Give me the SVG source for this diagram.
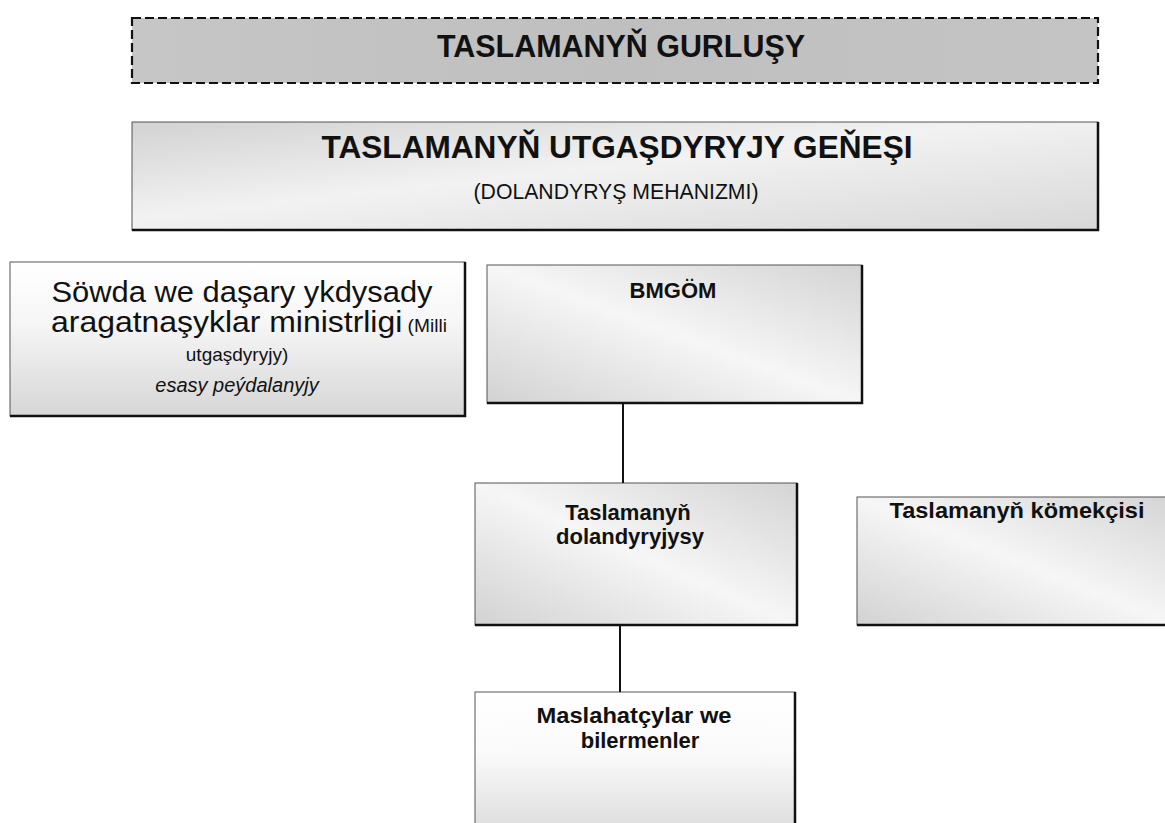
<svg xmlns="http://www.w3.org/2000/svg" width="1165" height="823" viewBox="0 0 1165 823">
<defs>
<linearGradient id="gTop" x1="0" y1="0" x2="1" y2="0">
<stop offset="0" stop-color="#c6c6c6"/><stop offset="0.5" stop-color="#bfbfbf"/><stop offset="1" stop-color="#c4c4c4"/>
</linearGradient>
<linearGradient id="gHead" x1="0" y1="0" x2="1" y2="1">
<stop offset="0" stop-color="#d2d2d2"/><stop offset="0.45" stop-color="#f2f2f2"/><stop offset="1" stop-color="#d8d8d8"/>
</linearGradient>
<linearGradient id="gLeft" x1="0" y1="0" x2="0" y2="1">
<stop offset="0" stop-color="#ffffff"/><stop offset="0.4" stop-color="#f6f6f6"/><stop offset="1" stop-color="#d6d6d6"/>
</linearGradient>
<linearGradient id="gBox" x1="0" y1="1" x2="1" y2="0">
<stop offset="0" stop-color="#d2d2d2"/><stop offset="0.5" stop-color="#f6f6f6"/><stop offset="1" stop-color="#d4d4d4"/>
</linearGradient>
<linearGradient id="gLow" x1="0" y1="0" x2="0" y2="1">
<stop offset="0" stop-color="#ffffff"/><stop offset="0.45" stop-color="#fafafa"/><stop offset="1" stop-color="#dcdcdc"/>
</linearGradient>
</defs>
<style>
text{font-family:"Liberation Sans",Arial,sans-serif;fill:#111;}
.b{font-weight:bold;}
.frame{stroke:#555;stroke-width:1;}
.shadow{fill:none;stroke:#111;stroke-width:2.5;}
.dash{fill:url(#gTop);stroke:#111;stroke-width:2.2;stroke-dasharray:9 4;}
.conn{stroke:#111;stroke-width:2;fill:none;}
</style>

<g id="title">
<rect x="132" y="18" width="966" height="65" class="dash"/>
<text x="621" y="57" class="b" font-size="32" text-anchor="middle" textLength="368" lengthAdjust="spacingAndGlyphs">TASLAMANYŇ GURLUŞY</text>
</g>

<g id="executive-board">
<rect x="132" y="122" width="966" height="108" fill="url(#gHead)" class="frame"/>
<polyline points="1098,122 1098,230 132,230" class="shadow"/>
<text x="617" y="158" class="b" font-size="32" text-anchor="middle" textLength="591" lengthAdjust="spacingAndGlyphs">TASLAMANYŇ UTGAŞDYRYJY GEŇEŞI</text>
<text x="616" y="199" font-size="22" text-anchor="middle" textLength="285" lengthAdjust="spacingAndGlyphs">(DOLANDYRYŞ MEHANIZMI)</text>
</g>

<g id="ministry">
<rect x="10" y="262" width="455" height="154" fill="url(#gLeft)" class="frame"/>
<polyline points="465,262 465,416 10,416" class="shadow"/>
<text x="242" y="302" font-size="30" text-anchor="middle" textLength="381" lengthAdjust="spacingAndGlyphs">Söwda we daşary ykdysady</text>
<text x="51" y="332" textLength="396" lengthAdjust="spacingAndGlyphs"><tspan font-size="30">aragatnaşyklar ministrligi</tspan><tspan font-size="18"> (Milli</tspan></text>
<text x="237" y="361" font-size="19" text-anchor="middle">utgaşdyryjy)</text>
<text x="237" y="392" font-size="20" font-style="italic" text-anchor="middle">esasy peýdalanyjy</text>
</g>

<g id="bmgom">
<rect x="487" y="265" width="375" height="138" fill="url(#gBox)" class="frame"/>
<polyline points="862,265 862,403 487,403" class="shadow"/>
<text x="673" y="298" class="b" font-size="22" text-anchor="middle">BMGÖM</text>
</g>

<g id="manager">
<rect x="475" y="483" width="322" height="142" fill="url(#gBox)" class="frame"/>
<polyline points="797,483 797,625 475,625" class="shadow"/>
<text x="628" y="520" class="b" font-size="22" text-anchor="middle">Taslamanyň</text>
<text x="630" y="544" class="b" font-size="22" text-anchor="middle">dolandyryjysy</text>
</g>

<g id="assistant">
<rect x="857" y="497" width="320" height="128" fill="url(#gBox)" class="frame"/>
<line x1="857" y1="625" x2="1165" y2="625" class="shadow"/>
<text x="1017" y="518" class="b" font-size="22" text-anchor="middle" textLength="255" lengthAdjust="spacingAndGlyphs">Taslamanyň kömekçisi</text>
</g>

<g id="consultants">
<rect x="475" y="692" width="320" height="140" fill="url(#gLow)" class="frame"/>
<line x1="795" y1="692" x2="795" y2="823" class="shadow"/>
<text x="634" y="723" class="b" font-size="22" text-anchor="middle" textLength="195" lengthAdjust="spacingAndGlyphs">Maslahatçylar we</text>
<text x="640" y="748" class="b" font-size="22" text-anchor="middle">bilermenler</text>
</g>

<g id="connectors">
<line x1="623" y1="403" x2="623" y2="483" class="conn"/>
<line x1="620" y1="625" x2="620" y2="692" class="conn"/>
</g>
</svg>
